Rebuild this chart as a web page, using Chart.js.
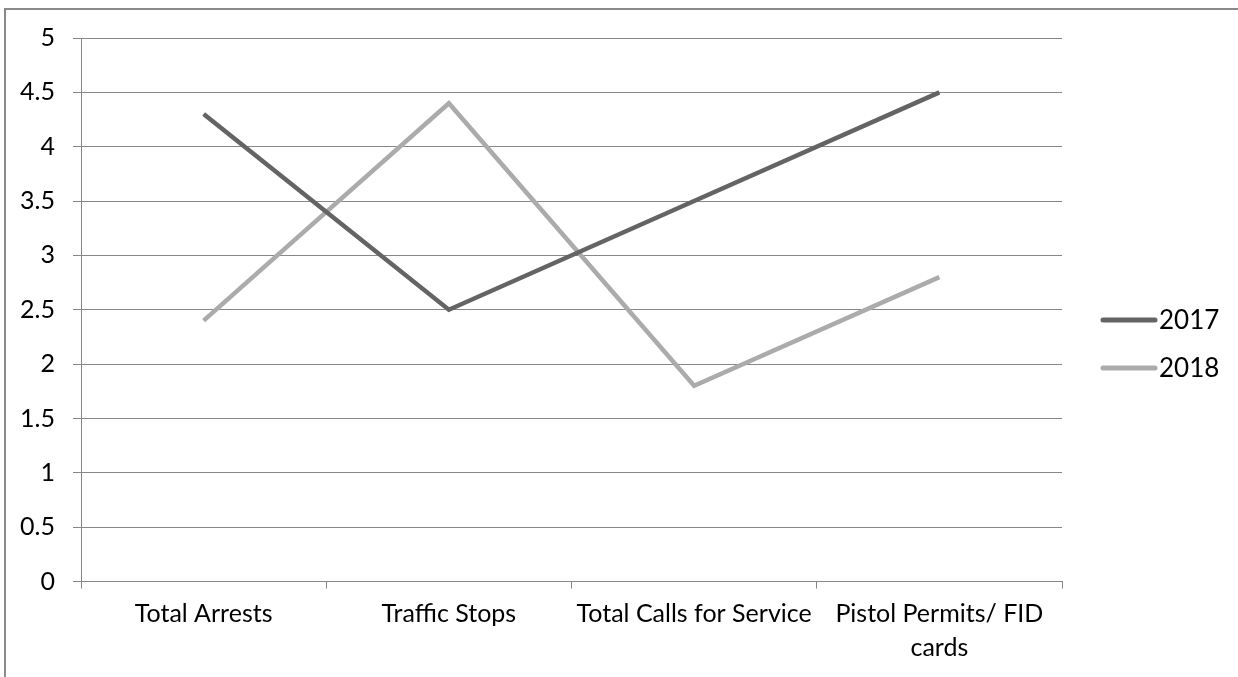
<!DOCTYPE html>
<html>
<head>
<meta charset="utf-8">
<script src="https://cdn.jsdelivr.net/npm/chart.js@4.4.1/dist/chart.umd.min.js"></script>
<style>
    html, body { margin: 0; padding: 0; background: #fff; }
    #wrap { position: relative; width: 1238px; height: 677px; overflow: hidden; }
    #frame {
        position: absolute; left: 4px; top: 8px; width: 1300px; height: 700px;
        border-top: 2px solid #8a8a8a; border-left: 2px solid #8a8a8a;
    }
    canvas { position: absolute; left: 0; top: 0; }
</style>
</head>
<body>
<div id="wrap">
    <div id="frame"></div>
    <canvas id="chart" width="1238" height="677"></canvas>
</div>
<script>
// chart data
const categories = [
    'Total Arrests',
    'Traffic Stops',
    'Total Calls for Service',
    ['Pistol Permits/ FID', 'cards']
];
const values2017 = [4.3, 2.5, 3.5, 4.5];
const values2018 = [2.4, 4.4, 1.8, 2.8];
const seriesLabels = ['2017', '2018'];

const FONT = 'Lato, "Open Sans", sans-serif';
const GRID = '#878787';

// legend drawn by hand so it sits where the original has it
const sideLegend = {
    id: 'sideLegend',
    afterDraw(chart) {
        const ctx = chart.ctx;
        const rows = [320, 368];
        ctx.save();
        chart.data.datasets.forEach((ds, i) => {
            const y = rows[i];
            ctx.strokeStyle = ds.borderColor;
            ctx.lineWidth = 5;
            ctx.lineCap = 'round';
            ctx.beginPath();
            ctx.moveTo(1103, y);
            ctx.lineTo(1155, y);
            ctx.stroke();
            ctx.fillStyle = '#000';
            ctx.font = '26px ' + FONT;
            ctx.textBaseline = 'middle';
            ctx.textAlign = 'left';
            ctx.fillText(ds.label, 1159, y + 1);
        });
        ctx.restore();
    }
};

new Chart(document.getElementById('chart').getContext('2d'), {
    type: 'line',
    data: {
        labels: categories,
        datasets: [
            {
                label: seriesLabels[0],
                data: values2017,
                borderColor: '#646464',
                borderWidth: 4.5,
                pointRadius: 0,
                tension: 0,
                fill: false
            },
            {
                label: seriesLabels[1],
                data: values2018,
                borderColor: '#ababab',
                borderWidth: 4.5,
                pointRadius: 0,
                tension: 0,
                fill: false
            }
        ]
    },
    options: {
        responsive: false,
        animation: false,
        layout: {
            padding: { left: 0, right: 176, top: 38, bottom: 0 }
        },
        plugins: {
            legend: { display: false },
            tooltip: { enabled: false }
        },
        scales: {
            x: {
                offset: true,
                grid: {
                    offset: true,
                    drawOnChartArea: false,
                    drawTicks: true,
                    tickLength: 7,
                    color: GRID
                },
                border: { display: true, color: GRID, width: 1 },
                ticks: {
                    color: '#000',
                    font: { family: FONT, size: 25, lineHeight: 1.36 },
                    padding: 8,
                    maxRotation: 0,
                    autoSkip: false
                },
                afterFit(scale) { scale.height = 95.5; }
            },
            y: {
                min: 0,
                max: 5,
                ticks: {
                    stepSize: 0.5,
                    color: '#000',
                    font: { family: FONT, size: 25 },
                    padding: 18,
                    callback: function(value) {
                        return String(value);
                    }
                },
                grid: {
                    color: GRID,
                    tickLength: 8,
                    lineWidth: 1
                },
                border: { display: true, color: GRID, width: 1 },
                afterFit(scale) { scale.width = 81; }
            }
        }
    },
    plugins: [sideLegend]
});
</script>
</body>
</html>
